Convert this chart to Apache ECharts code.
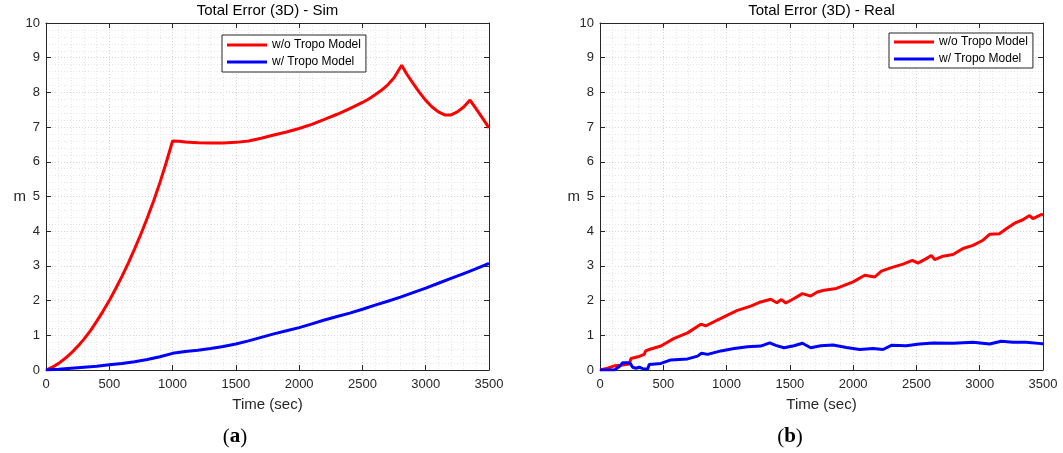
<!DOCTYPE html>
<html>
<head>
<meta charset="utf-8">
<script src="https://cdn.jsdelivr.net/npm/echarts@6/dist/echarts.min.js"></script>
<style>
  html, body { margin: 0; padding: 0; background: #fff; }
  #chart { width: 1063px; height: 453px; }
</style>
</head>
<body>
<div id="chart"></div>
<script>
// ---- Data ----
const xTicks = [0, 500, 1000, 1500, 2000, 2500, 3000, 3500];
const yTicks = [0, 1, 2, 3, 4, 5, 6, 7, 8, 9, 10];
const seriesNames = ['w/o Tropo Model', 'w/ Tropo Model'];
const panelTitles = ['Total Error (3D) - Sim', 'Total Error (3D) - Real'];
const panelTags = ['a', 'b'];

// (a) Sim - w/o Tropo Model
const simRedT = [0, 50, 100, 150, 200, 250, 300, 350, 400, 450, 500, 550, 600, 650, 700, 750, 800, 850, 900, 950, 1000,
  1050, 1100, 1200, 1300, 1400, 1500, 1600, 1700, 1800, 1900, 2000, 2100, 2200, 2300, 2400, 2500, 2550, 2600, 2650, 2700, 2750, 2810,
  2850, 2900, 2950, 3000, 3050, 3100, 3150, 3200, 3250, 3300, 3350, 3400, 3450, 3500];
const simRedV = [0, 0.08, 0.19, 0.33, 0.49, 0.68, 0.89, 1.13, 1.40, 1.69, 2.00, 2.34, 2.70, 3.08, 3.49, 3.92, 4.38, 4.87, 5.40, 5.98, 6.60,
  6.59, 6.57, 6.55, 6.54, 6.54, 6.56, 6.60, 6.68, 6.77, 6.86, 6.96, 7.08, 7.22, 7.37, 7.53, 7.71, 7.81, 7.93, 8.06, 8.22, 8.42, 8.78,
  8.53, 8.26, 8.00, 7.77, 7.58, 7.44, 7.35, 7.35, 7.44, 7.58, 7.78, 7.52, 7.25, 6.98];
// (a) Sim - w/ Tropo Model
const simBlueT = [0, 100, 200, 300, 400, 500, 600, 700, 800, 900, 1000, 1100, 1200, 1300, 1400, 1500, 1600, 1700, 1800, 1900,
  2000, 2100, 2200, 2300, 2400, 2500, 2600, 2700, 2800, 2900, 3000, 3100, 3200, 3300, 3400, 3500];
const simBlueV = [0, 0.02, 0.05, 0.08, 0.11, 0.15, 0.19, 0.24, 0.30, 0.38, 0.48, 0.53, 0.57, 0.62, 0.68, 0.75, 0.84, 0.94, 1.04, 1.13,
  1.22, 1.33, 1.44, 1.54, 1.64, 1.75, 1.87, 1.98, 2.10, 2.23, 2.36, 2.50, 2.64, 2.78, 2.92, 3.07];

// (b) Real - w/o Tropo Model
const realRedT = [0, 60, 113, 166, 230, 245, 300, 350, 360, 389, 481, 586, 692, 797, 836, 928, 1007, 1086, 1191, 1270, 1349, 1397,
  1433, 1468, 1533, 1599, 1665, 1717, 1770, 1868, 2000, 2092, 2171, 2223, 2302, 2394, 2468, 2512, 2578, 2618, 2644, 2710, 2789,
  2868, 2947, 3026, 3078, 3157, 3210, 3276, 3341, 3394, 3420, 3486, 3500];
const realRedV = [0, 0.05, 0.12, 0.14, 0.17, 0.33, 0.38, 0.45, 0.55, 0.59, 0.69, 0.91, 1.07, 1.32, 1.27, 1.44, 1.58, 1.72, 1.84, 1.96, 2.04, 1.94,
  2.03, 1.93, 2.06, 2.20, 2.13, 2.25, 2.30, 2.35, 2.54, 2.73, 2.68, 2.85, 2.95, 3.05, 3.16, 3.08, 3.21, 3.30, 3.18, 3.28, 3.33,
  3.50, 3.59, 3.74, 3.91, 3.93, 4.07, 4.23, 4.33, 4.45, 4.36, 4.48, 4.47];
// (b) Real - w/ Tropo Model
const realBlueT = [0, 60, 113, 153, 179, 218, 239, 258, 284, 310, 337, 376, 389, 481, 560, 692, 771, 802, 850, 955, 1060, 1165, 1270,
  1341, 1389, 1454, 1533, 1599, 1665, 1744, 1841, 1947, 2052, 2157, 2236, 2302, 2420, 2525, 2631, 2789, 2947, 3078, 3170, 3262, 3367, 3486, 3500];
const realBlueV = [0, 0.0, 0.0, 0.10, 0.21, 0.21, 0.19, 0.08, 0.05, 0.08, 0.04, 0.02, 0.16, 0.19, 0.29, 0.32, 0.40, 0.48, 0.45, 0.55, 0.62, 0.67, 0.69,
  0.78, 0.71, 0.64, 0.70, 0.77, 0.64, 0.70, 0.72, 0.65, 0.59, 0.62, 0.59, 0.71, 0.70, 0.75, 0.78, 0.77, 0.80, 0.75, 0.83, 0.80, 0.80, 0.76, 0.76];

// ---- Chart ----
const FONT = 'Liberation Sans, Arial, Helvetica, sans-serif';
const AX = '#262626';
const pair = (t, v) => t.map((x, i) => [x, v[i]]);
const plain = v => String(v);

const grids = [
  { left: 46, right: 574, top: 23, bottom: 83 },
  { left: 600, right: 20, top: 23, bottom: 83 }
];

function mainX(gi) {
  return {
    type: 'value', gridIndex: gi, min: xTicks[0], max: xTicks[xTicks.length - 1], interval: 500,
    position: 'bottom',
    name: 'Time (sec)', nameLocation: 'middle', nameGap: 27,
    nameTextStyle: { fontFamily: FONT, fontSize: 15, color: AX },
    axisLine: { show: true, onZero: false, lineStyle: { color: AX, width: 1 } },
    axisTick: { show: true, inside: true, length: 5, lineStyle: { color: AX } },
    axisLabel: { show: true, margin: 8, fontFamily: FONT, fontSize: 13, color: AX, formatter: plain, showMinLabel: true, showMaxLabel: true },
    splitLine: { show: true, lineStyle: { color: '#d4d4d4', type: [1, 2], width: 1 } },
    minorTick: { show: false, splitNumber: 5 },
    minorSplitLine: { show: true, lineStyle: { color: '#e6e6e6', type: [1, 2], width: 1 } }
  };
}
function topX(gi) {
  return {
    type: 'value', gridIndex: gi, min: 0, max: 3500, interval: 500, position: 'top',
    axisLine: { show: true, onZero: false, lineStyle: { color: AX, width: 1 } },
    axisTick: { show: true, inside: true, length: 5, lineStyle: { color: AX } },
    axisLabel: { show: false }, splitLine: { show: false }
  };
}
function mainY(gi) {
  return {
    type: 'value', gridIndex: gi, min: yTicks[0], max: yTicks[yTicks.length - 1], interval: 1,
    position: 'left',
    name: 'm', nameLocation: 'middle', nameGap: 20, nameRotate: 0, nameMoveOverlap: false,
    nameTextStyle: { fontFamily: FONT, fontSize: 15, color: AX },
    axisLine: { show: true, onZero: false, lineStyle: { color: AX, width: 1 } },
    axisTick: { show: true, inside: true, length: 5, lineStyle: { color: AX } },
    axisLabel: { show: true, margin: 6, fontFamily: FONT, fontSize: 13, color: AX, formatter: plain },
    splitLine: { show: true, lineStyle: { color: '#d4d4d4', type: [1, 2], width: 1 } },
    minorTick: { show: false, splitNumber: 5 },
    minorSplitLine: { show: true, lineStyle: { color: '#e6e6e6', type: [1, 2], width: 1 } }
  };
}
function rightY(gi) {
  return {
    type: 'value', gridIndex: gi, min: 0, max: 10, interval: 1, position: 'right',
    axisLine: { show: true, onZero: false, lineStyle: { color: AX, width: 1 } },
    axisTick: { show: true, inside: true, length: 5, lineStyle: { color: AX } },
    axisLabel: { show: false }, splitLine: { show: false }
  };
}

function lineSeries(name, color, data, xi, yi) {
  return {
    type: 'line', name: name, data: data, xAxisIndex: xi, yAxisIndex: yi,
    showSymbol: false, symbol: 'none', smooth: false, clip: true,
    lineStyle: { color: color, width: 3 }, itemStyle: { color: color },
    z: color === '#ff0000' ? 3 : 4
  };
}

function legend(left, top, pad) {
  return {
    orient: 'vertical', left: left, top: top, padding: pad,
    itemWidth: 40, itemHeight: 14, itemGap: 5,
    backgroundColor: '#ffffff', borderColor: AX, borderWidth: 1, borderRadius: 0,
    textStyle: { fontFamily: FONT, fontSize: 12, color: '#000' },
    data: seriesNames.map(n => ({ name: n, icon: 'path://M0,0L40,0L40,3L0,3Z' }))
  };
}

const option = {
  animation: false,
  backgroundColor: '#ffffff',
  grid: grids,
  xAxis: [mainX(0), topX(0), mainX(1), topX(1)],
  yAxis: [mainY(0), rightY(0), mainY(1), rightY(1)],
  legend: [legend(222, 35, [4, 5, 4, 5]), legend(889, 33, [3, 5, 3, 5])],
  series: [
    lineSeries(seriesNames[0], '#ff0000', pair(simRedT, simRedV), 0, 0),
    lineSeries(seriesNames[1], '#0000ff', pair(simBlueT, simBlueV), 0, 0),
    lineSeries(seriesNames[0], '#ff0000', pair(realRedT, realRedV), 2, 2),
    lineSeries(seriesNames[1], '#0000ff', pair(realBlueT, realBlueV), 2, 2)
  ],
  graphic: [
    { type: 'text', x: 267.5, y: 11, style: { text: panelTitles[0], font: '15px ' + FONT, fill: '#000', textAlign: 'center', textVerticalAlign: 'middle' } },
    { type: 'text', x: 821.5, y: 11, style: { text: panelTitles[1], font: '15px ' + FONT, fill: '#000', textAlign: 'center', textVerticalAlign: 'middle' } },
    { type: 'text', x: 235, y: 437, style: {
        text: '{p|(}{b|' + panelTags[0] + '}{p|)}', textAlign: 'center', textVerticalAlign: 'middle',
        rich: { p: { font: '21px Liberation Serif, serif', fill: '#000' }, b: { font: 'bold 21px Liberation Serif, serif', fill: '#000' } } } },
    { type: 'text', x: 790, y: 437, style: {
        text: '{p|(}{b|' + panelTags[1] + '}{p|)}', textAlign: 'center', textVerticalAlign: 'middle',
        rich: { p: { font: '21px Liberation Serif, serif', fill: '#000' }, b: { font: 'bold 21px Liberation Serif, serif', fill: '#000' } } } }
  ]
};

const chart = echarts.init(document.getElementById('chart'), null, { renderer: 'canvas' });
chart.setOption(option);
</script>
</body>
</html>
